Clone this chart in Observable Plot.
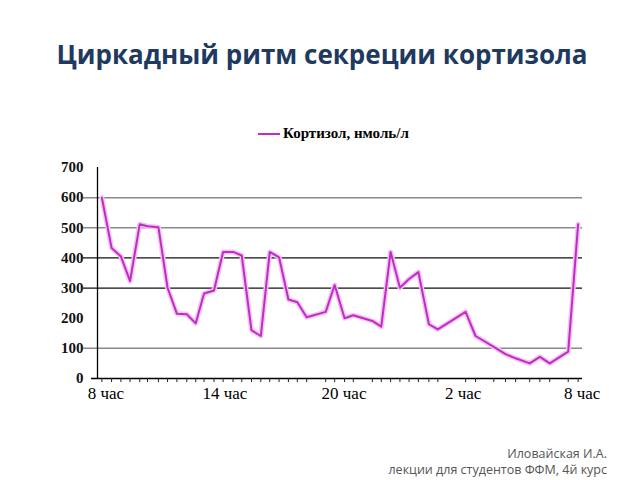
<!DOCTYPE html>
<html>
<head>
<meta charset="utf-8">
<script src="https://cdn.jsdelivr.net/npm/d3@7"></script>
<script src="https://cdn.jsdelivr.net/npm/@observablehq/plot@0.6"></script>
<style>
  html, body { margin: 0; padding: 0; background: #fff; }
  #page { position: relative; width: 640px; height: 480px; overflow: hidden; }
  #title { position: absolute; left: 0; top: 36px; width: 644px; text-align: center;
           font-family: "Open Sans", sans-serif; font-weight: 700; font-size: 26px; color: #1f3a60; }
  #legend { position: absolute; left: 258px; top: 125px; font-family: "Liberation Serif", serif;
            font-weight: 700; font-size: 15px; color: #000; display: flex; align-items: center; }
  #legend .sw { display: inline-block; width: 22px; height: 2px; background: #c02cc4; margin-right: 3px; }
  #chart { position: absolute; left: 0; top: 150px; }
  #chart svg text { font-family: "Liberation Serif", serif; }
  #caption { position: absolute; right: 33px; top: 446px; text-align: right;
             font-family: "Open Sans", sans-serif; font-size: 12.5px; color: #555; line-height: 16px; }
</style>
</head>
<body>
<div id="page">
  <div id="title">Циркадный ритм секреции кортизола</div>
  <div id="legend"><span class="sw"></span>Кортизол, нмоль/л</div>
  <div id="chart"></div>
  <div id="caption">Иловайская И.А.<br>лекции для студентов ФФМ, 4й курс</div>
</div>
<script>
// Hours since 8:00 for each measurement
const hours = [0.00, 0.49, 0.96, 1.42, 1.91, 2.30, 2.85, 3.31, 3.78, 4.28, 4.73, 5.15, 5.65, 6.11, 6.61, 7.05,
  7.54, 8.01, 8.46, 8.93, 9.40, 9.85, 10.32, 11.28, 11.73, 12.23, 12.67, 13.63, 14.08, 14.55, 15.02, 15.48,
  15.95, 16.48, 16.93, 18.33, 18.83, 19.75, 20.34, 20.85, 21.56, 22.07, 22.57, 23.50, 24.00];
// Cortisol, nmol/L
const cortisol = [600, 433, 405, 323, 512, 505, 502, 301, 215, 213, 183, 282, 292, 420, 420, 408,
  160, 141, 420, 402, 262, 253, 203, 221, 310, 200, 210, 191, 172, 420, 301, 330,
  353, 180, 163, 221, 141, 105, 81, 67, 50, 72, 50, 89, 512];
const xTickHours = [0, 6, 12, 18, 24];
const xTickLabels = ["8 час", "14 час", "20 час", "2 час", "8 час"];
const yTicks = [0, 100, 200, 300, 400, 500, 600, 700];
const gridLight = [100, 500, 600];
const gridDark = [300, 400];

const data = hours.map((h, i) => ({h, v: cortisol[i]}));
const xDomain = [-0.22, 24.22];

const chart = Plot.plot({
  width: 640,
  height: 260,
  marginTop: 17,
  marginBottom: 32,
  marginLeft: 97,
  marginRight: 58,
  x: {domain: xDomain},
  y: {domain: [0, 700]},
  marks: [
    Plot.ruleY(gridLight, {stroke: "#8a8a8a", strokeWidth: 1.5, insetLeft: -14}),
    Plot.ruleY(gridDark, {stroke: "#111", strokeWidth: 1.2, insetLeft: -14}),
    Plot.ruleY([0], {stroke: "#000", strokeWidth: 1.3, insetLeft: -6}),
    Plot.ruleX([xDomain[0]], {y1: 0, y2: 700, stroke: "#000", strokeWidth: 1.3}),
    Plot.axisY({ticks: yTicks, tickSize: 0, tickPadding: 14, fontSize: 15, fontWeight: "bold",
      fill: "#111", label: null}),
    Plot.axisX({ticks: hours, tickSize: 4, tickFormat: () => "", stroke: "#222", label: null}),
    Plot.axisX({ticks: xTickHours, tickSize: 0, tickPadding: 8, fontSize: 17, dx: 4,
      tickFormat: (d, i) => xTickLabels[i], fill: "#000", label: null}),
    Plot.line(data, {x: "h", y: "v", stroke: "#f2c6f2", strokeWidth: 5}),
    Plot.line(data, {x: "h", y: "v", stroke: "#c02cc4", strokeWidth: 2})
  ]
});
document.getElementById("chart").appendChild(chart);
</script>
</body>
</html>
